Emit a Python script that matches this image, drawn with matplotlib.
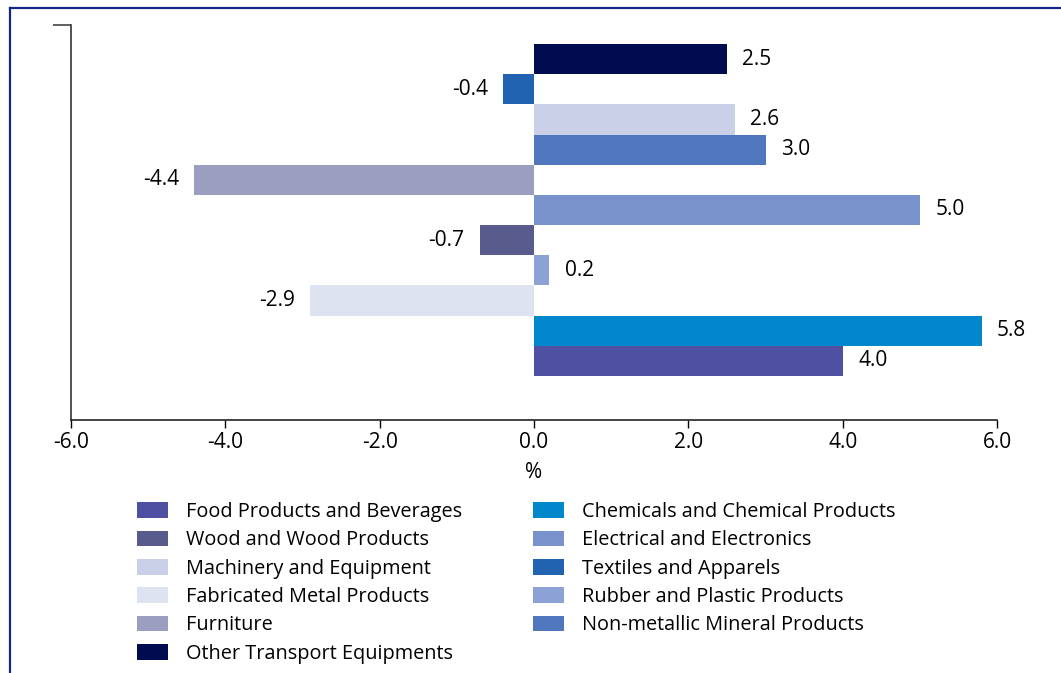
import matplotlib.pyplot as plt
from matplotlib.lines import Line2D
from matplotlib.patches import Patch

plt.rcParams["font.family"] = ["Open Sans", "DejaVu Sans"]

# bars listed bottom to top
sectors = [
    "Food Products and Beverages",
    "Chemicals and Chemical Products",
    "Fabricated Metal Products",
    "Rubber and Plastic Products",
    "Wood and Wood Products",
    "Electrical and Electronics",
    "Furniture",
    "Non-metallic Mineral Products",
    "Machinery and Equipment",
    "Textiles and Apparels",
    "Other Transport Equipments",
]
growth = [4.0, 5.8, -2.9, 0.2, -0.7, 5.0, -4.4, 3.0, 2.6, -0.4, 2.5]
colors = {
    "Food Products and Beverages": "#5050a2",
    "Wood and Wood Products": "#5a5b8d",
    "Machinery and Equipment": "#cbd0e9",
    "Fabricated Metal Products": "#dee3f2",
    "Furniture": "#9c9ec0",
    "Other Transport Equipments": "#000c4f",
    "Chemicals and Chemical Products": "#0087cc",
    "Electrical and Electronics": "#7a92cb",
    "Textiles and Apparels": "#2163b1",
    "Rubber and Plastic Products": "#8ca1d5",
    "Non-metallic Mineral Products": "#5077bd",
}
legend_order = [
    "Food Products and Beverages",
    "Wood and Wood Products",
    "Machinery and Equipment",
    "Fabricated Metal Products",
    "Furniture",
    "Other Transport Equipments",
    "Chemicals and Chemical Products",
    "Electrical and Electronics",
    "Textiles and Apparels",
    "Rubber and Plastic Products",
    "Non-metallic Mineral Products",
]
xticks = [-6.0, -4.0, -2.0, 0.0, 2.0, 4.0, 6.0]

fig = plt.figure(figsize=(10.61, 6.73), dpi=100)
ax = fig.add_axes([71 / 1061, 1 - 420 / 673, 926 / 1061, 395 / 673])

pos = list(range(len(sectors)))
ax.barh(pos, growth, height=1.0, color=[colors[s] for s in sectors])

for y, v in zip(pos, growth):
    if v >= 0:
        ax.text(v + 0.2, y, f"{v:.1f}", ha="left", va="center", fontsize=15)
    else:
        ax.text(v - 0.2, y, f"{v:.1f}", ha="right", va="center", fontsize=15)

ax.set_xlim(-6, 6)
ax.set_ylim(-1.96, 11.13)
ax.set_xticks(xticks)
ax.set_xticklabels([f"{t:.1f}" for t in xticks], fontsize=15)
ax.set_yticks([11.13])
ax.set_yticklabels([])
ax.tick_params(axis="x", length=6, width=1, direction="out", pad=3)
ax.tick_params(axis="y", length=13, width=1.2, direction="out", color="#444444")
ax.set_xlabel("%", fontsize=15, labelpad=6)
for side in ["top", "right"]:
    ax.spines[side].set_visible(False)
ax.spines["left"].set_color("#333333")
ax.spines["bottom"].set_color("#222222")
ax.spines["left"].set_linewidth(1.2)
ax.spines["bottom"].set_linewidth(1.2)

handles = [Patch(facecolor=colors[s], edgecolor="none") for s in legend_order]
fig.legend(
    handles,
    legend_order,
    loc="upper left",
    bbox_to_anchor=(137 / 1061, 1 - 502 / 673),
    ncol=2,
    frameon=False,
    fontsize=14.3,
    borderpad=0,
    borderaxespad=0,
    handlelength=1.56,
    handleheight=0.85,
    handletextpad=0.9,
    labelspacing=0.42,
    columnspacing=3.6,
)

# outer frame, top and left edges
fig.add_artist(Line2D([10 / 1061, 1], [1 - 8 / 673] * 2, color="#14288c", lw=1.6))
fig.add_artist(Line2D([10 / 1061] * 2, [0, 1 - 8 / 673], color="#14288c", lw=1.6))

fig.savefig("out.png", dpi=100)
